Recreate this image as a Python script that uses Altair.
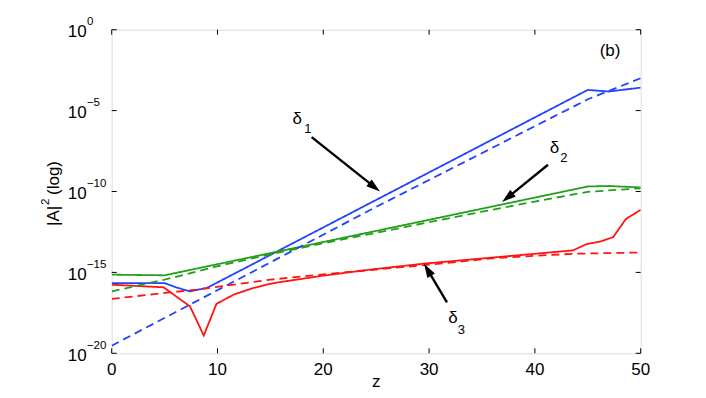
import math
import altair as alt
import pandas as pd

# ---------------- data: z and log10(|A|^2) ----------------
blue_solid_z = [0, 5, 6.2, 7.4, 9, 45, 47, 50]
blue_solid_lg = [-15.66, -15.66, -15.95, -16.17, -15.96, -3.72, -3.82, -3.58]
blue_dash_z = [0, 25, 45, 50]
blue_dash_lg = [-19.53, -10.95, -4.3, -3.0]
green_solid_z = [0, 5, 45, 47, 50]
green_solid_lg = [-15.14, -15.18, -9.69, -9.66, -9.75]
green_dash_z = [0, 5, 10, 15, 20, 25, 30, 35, 40, 45, 50]
green_dash_lg = [-16.17, -15.45, -14.62, -13.88, -13.2, -12.55, -11.9, -11.25, -10.62, -10.02, -9.8]
red_solid_z = [0, 4.9, 7.4, 8.7, 9.9, 11.5, 13.4, 15.3, 20, 24.4, 29.5, 43.6, 44.9, 46.2, 47.4, 48.6, 50]
red_solid_lg = [-15.76, -15.92, -17.1, -18.9, -16.95, -16.38, -15.96, -15.66, -15.2, -14.83, -14.46,
                -13.64, -13.25, -13.09, -12.82, -11.7, -11.13]
red_dash_z = [0, 5, 8, 15, 20, 25, 30, 36.5, 43.6, 50]
red_dash_lg = [-16.64, -16.27, -16.07, -15.45, -15.12, -14.82, -14.52, -14.1, -13.85, -13.77]

x_ticks = [0, 10, 20, 30, 40, 50]
y_tick_exp = [0, -5, -10, -15, -20]

# annotations: label (delta + subscript) and arrow tail -> tip, in data coords
ann_names = ["δ", "δ", "δ"]
ann_subs = ["1", "2", "3"]
ann_z = [17.1, 41.4, 31.8]
ann_lg = [-5.82, -7.6, -18.1]
ann_sub_z = [18.2, 42.4, 32.7]
ann_sub_lg = [-6.38, -8.2, -18.78]
arrow_tail_z = [18.9, 41.24, 31.69]
arrow_tail_lg = [-6.64, -8.35, -16.85]
arrow_tip_z = [25.36, 36.9, 29.52]
arrow_tip_lg = [-10.0, -10.65, -14.46]

BLUE = "#2143ff"
GREEN = "#22a01a"
RED = "#ff1414"

W, H = 529, 323.6
FONT = "Liberation Sans"

# ---------------- tables ----------------
series = [
    ("blue_s", blue_solid_z, blue_solid_lg, BLUE, "solid"),
    ("green_s", green_solid_z, green_solid_lg, GREEN, "solid"),
    ("red_s", red_solid_z, red_solid_lg, RED, "solid"),
    ("blue_d", blue_dash_z, blue_dash_lg, BLUE, "dashed"),
    ("green_d", green_dash_z, green_dash_lg, GREEN, "dashed"),
    ("red_d", red_dash_z, red_dash_lg, RED, "dashed"),
]
rows = []
for order, (key, zs, lgs, col, sty) in enumerate(series):
    for i, (z, lg) in enumerate(zip(zs, lgs)):
        rows.append({"key": key, "z": z, "val": 10 ** lg, "color": col, "style": sty, "i": i})
lines_df = pd.DataFrame(rows)

xs = alt.Scale(domain=[0, 50], nice=False, zero=False)
ys = alt.Scale(type="log", domain=[1e-20, 1], nice=False)

lines = alt.Chart(lines_df).mark_line(strokeWidth=1.8, clip=True).encode(
    x=alt.X("z:Q", scale=xs, axis=None),
    y=alt.Y("val:Q", scale=ys, axis=None),
    color=alt.Color("color:N", scale=None),
    strokeDash=alt.StrokeDash("style:N", scale=alt.Scale(domain=["solid", "dashed"], range=[[1, 0], [8, 5]]),
                              legend=None),
    detail="key:N",
    order="i:Q",
)

# ---- ticks (inward) ----
xt_df = pd.DataFrame({"z": x_ticks})
yt_df = pd.DataFrame({"val": [10.0 ** e for e in y_tick_exp],
                      "exp": [("−" + str(-e)) if e < 0 else str(e) for e in y_tick_exp],
                      "base": ["10"] * len(y_tick_exp)})

tick_style = dict(color="black", strokeWidth=1)
xt_bottom = alt.Chart(xt_df).mark_rule(**tick_style).encode(
    x=alt.X("z:Q", scale=xs, axis=None), y=alt.value(H), y2=alt.value(H - 5))
xt_top = alt.Chart(xt_df).mark_rule(**tick_style).encode(
    x=alt.X("z:Q", scale=xs, axis=None), y=alt.value(0), y2=alt.value(5))
yt_left = alt.Chart(yt_df).mark_rule(**tick_style).encode(
    y=alt.Y("val:Q", scale=ys, axis=None), x=alt.value(0), x2=alt.value(5))
yt_right = alt.Chart(yt_df).mark_rule(**tick_style).encode(
    y=alt.Y("val:Q", scale=ys, axis=None), x=alt.value(W), x2=alt.value(W - 5))

# ---- tick labels ----
xlab = alt.Chart(xt_df).mark_text(font=FONT, fontSize=17, align="center", baseline="alphabetic",
                                  color="black").encode(
    x=alt.X("z:Q", scale=xs, axis=None), y=alt.value(H + 21.7), text=alt.Text("z:Q"))
ylab_base = alt.Chart(yt_df).mark_text(font=FONT, fontSize=17, align="left", baseline="alphabetic",
                                       dy=7.6, color="black").encode(
    y=alt.Y("val:Q", scale=ys, axis=None), x=alt.value(-43.9), text="base:N")
ylab_exp = alt.Chart(yt_df).mark_text(font=FONT, fontSize=11.5, align="left", baseline="alphabetic",
                                      dy=-4.5, color="black").encode(
    y=alt.Y("val:Q", scale=ys, axis=None), x=alt.value(-24.8), text="exp:N")

one = pd.DataFrame({"a": [0]})


def label(text, x, y, size, angle=0, align="left"):
    kw = dict(text=text, font=FONT, fontSize=size, align=align, baseline="alphabetic", color="black")
    if angle:
        kw["angle"] = angle
    return alt.Chart(one).mark_text(**kw).encode(x=alt.value(x), y=alt.value(y))


# axis titles
title_parts = [
    label("|A|", -52.4, 196.3, 17, angle=270),
    label("2", -62.5, 175.3, 11.5, angle=270),
    label("(log)", -52.4, 165.3, 17, angle=270),
    label("z", W / 2, H + 33.5, 17, align="center"),
]

# ---- annotations ----
ann_df = pd.DataFrame({"z": ann_z, "val": [10 ** v for v in ann_lg], "t": ann_names})
sub_df = pd.DataFrame({"z": ann_sub_z, "val": [10 ** v for v in ann_sub_lg], "t": ann_subs})
ann_text = alt.Chart(ann_df).mark_text(font=FONT, fontSize=17, align="left", baseline="alphabetic",
                                       color="black").encode(
    x=alt.X("z:Q", scale=xs, axis=None), y=alt.Y("val:Q", scale=ys, axis=None), text="t:N")
sub_text = alt.Chart(sub_df).mark_text(font=FONT, fontSize=13, align="left", baseline="alphabetic",
                                       color="black").encode(
    x=alt.X("z:Q", scale=xs, axis=None), y=alt.Y("val:Q", scale=ys, axis=None), text="t:N")

b_df = pd.DataFrame({"z": [47.1], "val": [10 ** -1.62], "t": ["(b)"]})
b_text = alt.Chart(b_df).mark_text(font=FONT, fontSize=17, align="center", baseline="alphabetic",
                                   color="black").encode(
    x=alt.X("z:Q", scale=xs, axis=None), y=alt.Y("val:Q", scale=ys, axis=None), text="t:N")

HEAD_LEN = 14.0
arr_rows = []
for tz, tl, pz, pl in zip(arrow_tail_z, arrow_tail_lg, arrow_tip_z, arrow_tip_lg):
    dx = (pz - tz) * W / 50.0
    dy = -(pl - tl) * H / 20.0
    L = math.hypot(dx, dy)
    f = 1 - (HEAD_LEN * 0.7) / L
    ez = tz + f * (pz - tz)
    el = tl + f * (pl - tl)
    ang = math.degrees(math.atan2(dx, -dy)) % 360
    arr_rows.append({"tz": tz, "tv": 10 ** tl, "ez": ez, "ev": 10 ** el, "pz": pz, "pv": 10 ** pl, "ang": ang})
arr_df = pd.DataFrame(arr_rows)

shafts = alt.Chart(arr_df).mark_rule(color="black", strokeWidth=2.4).encode(
    x=alt.X("tz:Q", scale=xs, axis=None), x2="ez:Q",
    y=alt.Y("tv:Q", scale=ys, axis=None), y2="ev:Q")
heads = alt.Chart(arr_df).mark_point(shape="M0,0L0.62,2L-0.62,2Z", filled=True, opacity=1,
                                     color="black", strokeWidth=0, size=HEAD_LEN ** 2).encode(
    x=alt.X("pz:Q", scale=xs, axis=None), y=alt.Y("pv:Q", scale=ys, axis=None),
    angle=alt.Angle("ang:Q", scale=None))

chart = alt.layer(
    lines, xt_bottom, xt_top, yt_left, yt_right, xlab, ylab_base, ylab_exp,
    *title_parts, ann_text, sub_text, b_text, shafts, heads,
).properties(
    width=W, height=H,
    autosize=alt.AutoSizeParams(type="none"),
    padding={"left": 103.7, "top": 21.7, "right": 57, "bottom": 37},
).configure_view(stroke="black", strokeWidth=1).configure(background="white")

chart.save("out.html", embed_options={"renderer": "svg", "actions": False})
